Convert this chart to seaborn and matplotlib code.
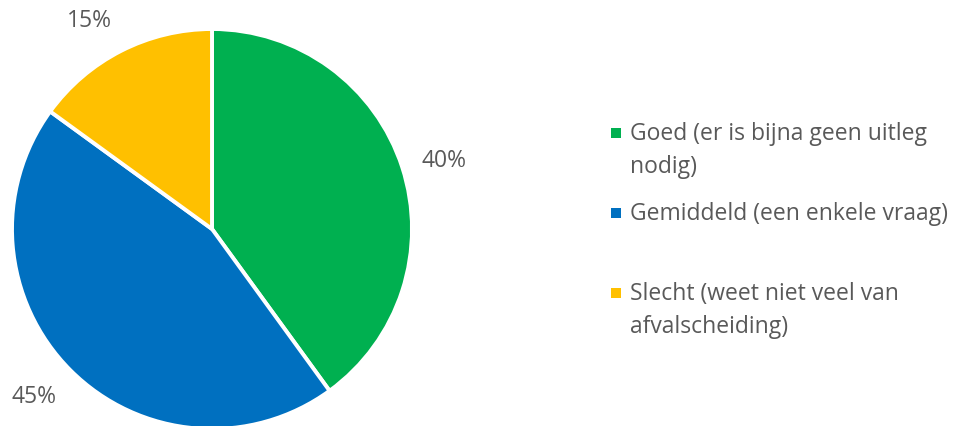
import matplotlib
matplotlib.use("Agg")
import matplotlib.pyplot as plt
import seaborn as sns
import numpy as np

# data
categories = ["Goed (er is bijna geen uitleg\nnodig)",
              "Gemiddeld (een enkele vraag)",
              "Slecht (weet niet veel van\nafvalscheiding)"]
shares = [40, 45, 15]
colors = ["#00B050", "#0070C0", "#FFC000"]

sns.set_theme(style="white")
plt.rcParams['font.family'] = ['Open Sans', 'DejaVu Sans']
textcol = "#595959"
fs = 16.5

fig = plt.figure(figsize=(9.6, 4.26), dpi=100)

# pie axes: radius 200 px, centre at (212, 229) px
ax = fig.add_axes([12 / 960, -3 / 426, 400 / 960, 400 / 426])
wedges, texts, autotexts = ax.pie(
    shares, colors=colors, startangle=90, counterclock=False,
    autopct=lambda p: f"{p:.0f}%", pctdistance=1.1, radius=1,
    wedgeprops=dict(edgecolor="white", linewidth=2.8),
    textprops=dict(color=textcol, fontsize=fs))
# put the data labels just outside the rim, like excel does
for w, t in zip(wedges, autotexts):
    ang = np.deg2rad((w.theta1 + w.theta2) / 2)
    c, s = np.cos(ang), np.sin(ang)
    t.set_ha("left" if c > 0 else "right")
    if abs(s) < 0.5:
        t.set_va("center")
    else:
        t.set_va("bottom" if s > 0 else "top")
ax.set_xlim(-1, 1)
ax.set_ylim(-1, 1)
ax.set_aspect("equal")
ax.axis("off")

# legend drawn in pixel coordinates on an overlay axes
lax = fig.add_axes([0, 0, 1, 1], zorder=-1)
lax.set_xlim(0, 960)
lax.set_ylim(426, 0)
lax.axis("off")
baselines = [140, 220, 300]
for lab, col, yb in zip(categories, colors, baselines):
    lax.scatter([615.5], [yb - 7], marker="s", s=50, color=col, linewidths=0)
    for i, line in enumerate(lab.split("\n")):
        lax.text(630, yb + 33 * i, line, color=textcol, fontsize=fs,
                 va="baseline", ha="left")

fig.savefig("out.png", dpi=100)
